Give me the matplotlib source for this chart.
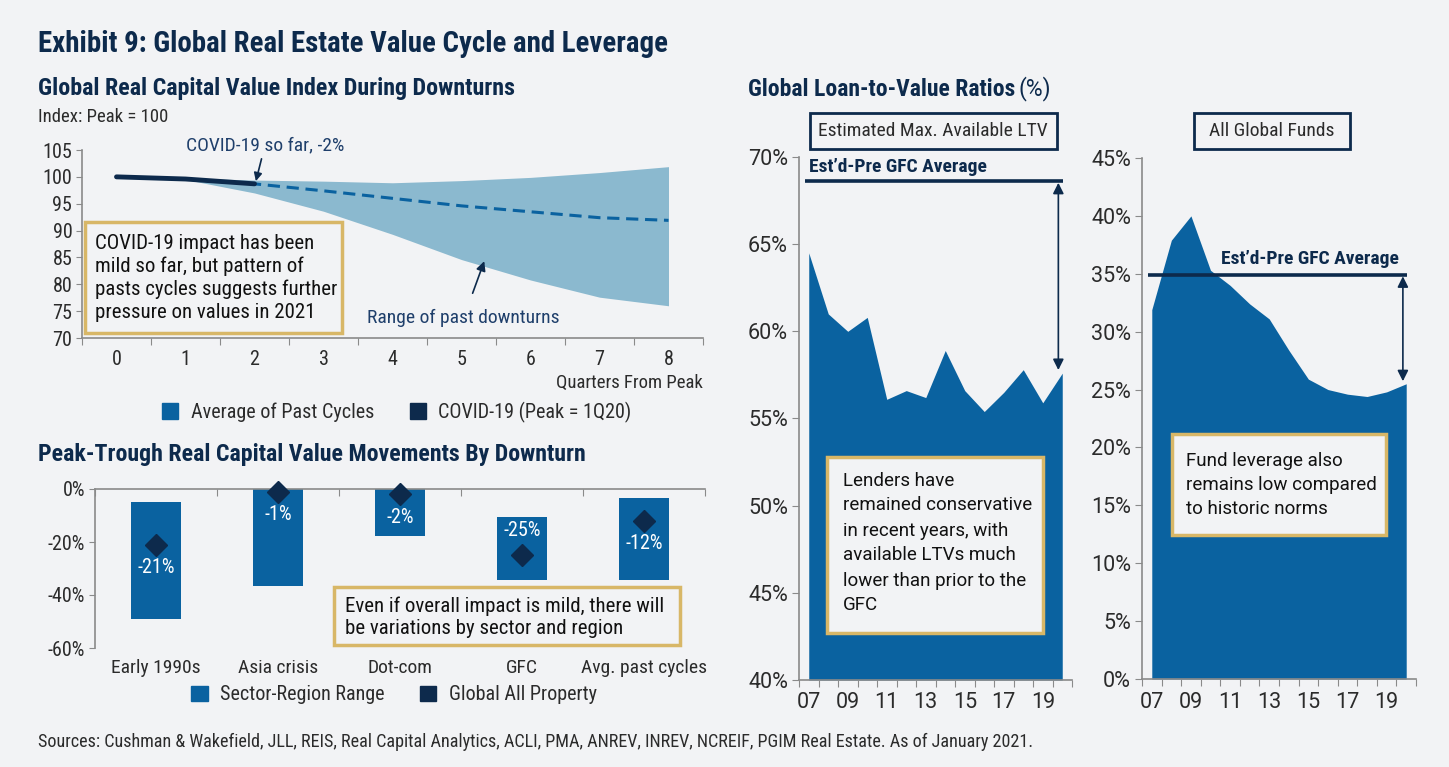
"""
Exhibit 9: Global Real Estate Value Cycle and Leverage.
Four panels: value index band, peak-trough bars, two LTV area charts.
"""

import numpy as np
import matplotlib.pyplot as plt
from matplotlib.patches import Rectangle, Patch


# ===============================
# 1. DATA
# ===============================

quarters = [0, 1, 2, 3, 4, 5, 6, 7, 8]
past_upper = [100.0, 99.8, 99.4, 99.2, 98.9, 99.3, 99.9, 100.8, 101.9]
past_lower = [100.0, 99.5, 97.0, 93.6, 89.3, 84.6, 80.8, 77.6, 76.0]
past_avg = [100.0, 99.6, 98.7, 97.4, 96.0, 94.6, 93.5, 92.4, 91.9]
covid_quarters = [0, 1, 2]
covid_index = [100.0, 99.6, 98.7]

downturns = ["Early 1990s", "Asia crisis", "Dot-com", "GFC", "Avg. past cycles"]
range_top = [-5.0, 0.0, 0.0, -10.5, -3.5]
range_bottom = [-49.0, -36.5, -17.8, -34.5, -34.5]
global_all = [-21, -1, -2, -25, -12]

years = ["07", "08", "09", "10", "11", "12", "13", "14", "15", "16", "17", "18", "19", "20"]
ltv_max = [64.5, 61.0, 60.0, 60.8, 56.1, 56.6, 56.2, 58.9, 56.6, 55.4, 56.5, 57.8, 55.9, 57.6]
ltv_pre_gfc = 68.6
fund_ltv = [31.9, 37.9, 40.0, 35.3, 34.0, 32.4, 31.1, 28.4, 25.9, 25.0, 24.6, 24.4, 24.8, 25.5]
fund_pre_gfc = 34.9


# ===============================
# 2. STYLE
# ===============================

W, H = 1449, 767
BG = "#F2F3F5"
NAVY = "#0D2A4C"
MID = "#0A62A0"
LIGHT = "#8BB9CF"
GOLD = "#D8B767"
GREY = "#8A8A8A"
TEXT = "#2B2B2B"

NARROW = ["Roboto Condensed", "DejaVu Sans"]
REG = ["Roboto", "DejaVu Sans"]

plt.rcParams["font.family"] = NARROW


def fx(px):
    return px / W


def fy(py):
    return 1 - py / H


def add_axes_px(fig, x0, y0, x1, y1):
    ax = fig.add_axes([fx(x0), fy(y1), (x1 - x0) / W, (y1 - y0) / H])
    ax.set_facecolor("none")
    return ax


def box_px(fig, x0, y0, x1, y1, edge, lw):
    rect = Rectangle((fx(x0), fy(y1)), (x1 - x0) / W, (y1 - y0) / H,
                     transform=fig.transFigure, facecolor=BG,
                     edgecolor=edge, linewidth=lw, zorder=5)
    fig.add_artist(rect)


def style_spines(ax, left=True, bottom=True, top=False):
    for side in ["left", "bottom", "top", "right"]:
        ax.spines[side].set_visible(False)
    for side, on in [("left", left), ("bottom", bottom), ("top", top)]:
        if on:
            ax.spines[side].set_visible(True)
            ax.spines[side].set_color(GREY)
            ax.spines[side].set_linewidth(1.2)


# ===============================
# 3. PANELS
# ===============================

def plot_value_index(fig):
    ax = add_axes_px(fig, 82, 150, 703, 338)

    ax.fill_between(quarters, past_lower, past_upper, color=LIGHT, lw=0)
    ax.plot(quarters, past_avg, color=MID, lw=2.2, ls=(0, (4, 2.2)))
    ax.plot(covid_quarters, covid_index, color=NAVY, lw=3.5,
            solid_capstyle="round")

    ax.set_xlim(-0.5, 8.5)
    ax.set_ylim(70, 105)
    style_spines(ax)

    ax.set_yticks(np.arange(70, 106, 5))
    ax.tick_params(axis="y", labelsize=14.5, colors=GREY, labelcolor=TEXT,
                   length=4, pad=3)
    ax.set_xticks(np.arange(-0.5, 9, 1))
    ax.set_xticklabels([])
    ax.set_xticks(quarters, minor=True)
    ax.set_xticklabels([str(q) for q in quarters], minor=True)
    ax.tick_params(axis="x", which="major", length=5, colors=GREY)
    ax.tick_params(axis="x", which="minor", length=0, labelsize=14.5,
                   labelcolor=TEXT, pad=9)

    ax.annotate("COVID-19 so far, -2%", xy=(2.02, 99.2), xytext=(2.15, 105.8),
                ha="center", va="center", fontsize=14, color="#1F3F6B",
                arrowprops=dict(arrowstyle="-|>", color=NAVY, lw=1.2,
                                mutation_scale=12, shrinkA=1, shrinkB=0))
    ax.annotate("Range of past downturns", xy=(5.33, 84.3), xytext=(5.03, 73.7),
                ha="center", va="center", fontsize=14, color="#1F3F6B",
                arrowprops=dict(arrowstyle="-|>", color=NAVY, lw=1.2,
                                mutation_scale=14, shrinkA=10, shrinkB=0))

    fig.text(fx(703), fy(383), "Quarters From Peak", ha="right", va="center",
             fontsize=13.5, color=TEXT)
    fig.text(fx(38), fy(117), "Index: Peak = 100", ha="left", va="center",
             fontsize=13.5, color=TEXT)

    box_px(fig, 85, 222, 342, 333, GOLD, 2.5)
    fig.text(fx(95), fy(278),
             "COVID-19 impact has been\nmild so far, but pattern of\n"
             "pasts cycles suggests further\npressure on values in 2021",
             ha="left", va="center", fontsize=15, color="#111111",
             linespacing=1.22, zorder=6)

    handles = [Patch(color=MID, label="Average of Past Cycles"),
               Patch(color=NAVY, label="COVID-19 (Peak = 1Q20)")]
    ax.legend(handles=handles, loc="center", ncol=2, frameon=False,
              bbox_to_anchor=(fx(397), fy(412)), bbox_transform=fig.transFigure,
              fontsize=14.5, handlelength=0.8, handleheight=0.8,
              handletextpad=0.6, columnspacing=1.8, labelcolor=TEXT)


def plot_peak_trough(fig):
    ax = add_axes_px(fig, 95, 489, 705, 648)
    x = np.arange(len(downturns))
    top = np.array(range_top)
    bottom = np.array(range_bottom)

    ax.bar(x, top - bottom, bottom=bottom, width=0.41, color=MID, zorder=2)
    ax.plot(x, global_all, ls="none", marker="D", markersize=11.5,
            color=NAVY, zorder=4, clip_on=False)

    offsets = [-8.8, -8.8, -8.8, 9.2, -8.4]
    for xi, v, off in zip(x, global_all, offsets):
        ax.text(xi, v + off, f"{v}%", ha="center", va="center",
                color="white", fontsize=14.5, zorder=5)

    ax.set_xlim(-0.5, 4.5)
    ax.set_ylim(-60, 0)
    style_spines(ax, bottom=False, top=True)

    ax.set_yticks([-60, -40, -20, 0])
    ax.set_yticklabels(["-60%", "-40%", "-20%", "0%"])
    ax.tick_params(axis="y", labelsize=14.5, colors=GREY, labelcolor=TEXT,
                   length=4, pad=3)
    ax.set_xticks(np.arange(-0.5, 5, 1))
    ax.set_xticklabels([])
    ax.set_xticks(x, minor=True)
    ax.set_xticklabels(downturns, minor=True)
    ax.tick_params(axis="x", which="major", top=True, bottom=False,
                   direction="in", length=5, colors=GREY)
    ax.tick_params(axis="x", which="minor", length=0, labelsize=14,
                   labelcolor=TEXT, pad=8)

    box_px(fig, 334, 587, 680, 645, GOLD, 2.5)
    fig.text(fx(345), fy(617),
             "Even if overall impact is mild, there will\n"
             "be variations by sector and region",
             ha="left", va="center", fontsize=15, color="#111111",
             linespacing=1.22, zorder=6)

    handles = [Patch(color=MID, label="Sector-Region Range"),
               Patch(color=NAVY, label="Global All Property")]
    ax.legend(handles=handles, loc="center", ncol=2, frameon=False,
              bbox_to_anchor=(fx(394), fy(695)), bbox_transform=fig.transFigure,
              fontsize=14.5, handlelength=0.8, handleheight=0.8,
              handletextpad=0.6, columnspacing=1.8, labelcolor=TEXT)


def plot_ltv_area(fig, rect_px, values, pre_gfc, ylim, yticks,
                  arrow_x, label_x, label_y, label_ha):
    ax = add_axes_px(fig, *rect_px)
    idx = np.arange(len(years))

    ax.fill_between(idx, values, ylim[0], color=MID, lw=0)
    ax.hlines(pre_gfc, idx[0] - 0.2, idx[-1] + 0.05, color=NAVY, lw=2.6,
              zorder=3)
    ax.annotate("", xy=(arrow_x, values[-1] + 0.1), xytext=(arrow_x, pre_gfc),
                arrowprops=dict(arrowstyle="<|-|>", color=NAVY, lw=1.2,
                                mutation_scale=16, shrinkA=1, shrinkB=1))
    ax.text(label_x, label_y, "Est\u2019d-Pre GFC Average", ha=label_ha,
            va="center", fontsize=14, fontweight="bold", color=NAVY)

    ax.set_xlim(-0.5, 13.5)
    ax.set_ylim(*ylim)
    style_spines(ax)

    ax.set_yticks(yticks)
    ax.set_yticklabels([f"{t}%" for t in yticks])
    ax.tick_params(axis="y", labelsize=15.5, colors=GREY, labelcolor=TEXT,
                   length=5, pad=3)
    for lab in ax.get_yticklabels():
        lab.set_family(REG)
    ax.set_xticks(np.arange(-0.5, 14, 1))
    ax.set_xticklabels([])
    ax.set_xticks(idx[::2], minor=True)
    ax.set_xticklabels(years[::2], minor=True)
    ax.tick_params(axis="x", which="major", length=5, colors=GREY)
    ax.tick_params(axis="x", which="minor", length=0, labelsize=15.5,
                   labelcolor=TEXT, pad=9)
    for lab in ax.get_xticklabels(minor=True):
        lab.set_family(REG)
    return ax


def plot_ltv(fig):
    fig.text(fx(748), fy(89), "Global Loan-to-Value Ratios", ha="left",
             va="center", fontsize=17, fontweight="bold", color=NAVY)
    fig.text(fx(1019), fy(89), "(%)", ha="left", va="center",
             fontsize=16.5, color=NAVY, family=REG)

    plot_ltv_area(fig, (799, 157, 1072, 680), ltv_max, ltv_pre_gfc,
                  (40, 70), list(range(40, 71, 5)),
                  arrow_x=12.8, label_x=0.0, label_y=69.45, label_ha="left")
    box_px(fig, 810, 113, 1057, 149, NAVY, 2)
    fig.text(fx(933), fy(131), "Estimated Max. Available LTV", ha="center",
             va="center", fontsize=14, color=TEXT, zorder=6)
    box_px(fig, 827, 457, 1043, 633, GOLD, 2.5)
    fig.text(fx(843), fy(543),
             "Lenders have\nremained conservative\nin recent years, with\n"
             "available LTVs much\nlower than prior to the\nGFC",
             ha="left", va="center", fontsize=13.5, color="#111111",
             family=REG, linespacing=1.5, zorder=6)

    plot_ltv_area(fig, (1142, 158, 1416, 679), fund_ltv, fund_pre_gfc,
                  (0, 45), list(range(0, 46, 5)),
                  arrow_x=12.83, label_x=12.6, label_y=36.3, label_ha="right")
    box_px(fig, 1194, 113, 1350, 149, NAVY, 2)
    fig.text(fx(1272), fy(131), "All Global Funds", ha="center",
             va="center", fontsize=14, color=TEXT, zorder=6)
    box_px(fig, 1172, 434, 1386, 535, GOLD, 2.5)
    fig.text(fx(1186), fy(485),
             "Fund leverage also\nremains low compared\nto historic norms",
             ha="left", va="center", fontsize=13.5, color="#111111",
             family=REG, linespacing=1.45, zorder=6)


# ===============================
# 4. MAIN
# ===============================

def main():
    fig = plt.figure(figsize=(W / 100, H / 100), dpi=100, facecolor=BG)

    fig.text(fx(38), fy(44), "Exhibit 9: Global Real Estate Value Cycle and Leverage",
             ha="left", va="center", fontsize=20.8, fontweight="bold", color=NAVY)
    fig.text(fx(38), fy(89), "Global Real Capital Value Index During Downturns",
             ha="left", va="center", fontsize=17.3, fontweight="bold", color=NAVY)
    fig.text(fx(38), fy(454), "Peak-Trough Real Capital Value Movements By Downturn",
             ha="left", va="center", fontsize=17.2, fontweight="bold", color=NAVY)

    plot_value_index(fig)
    plot_peak_trough(fig)
    plot_ltv(fig)

    fig.text(fx(38), fy(742),
             "Sources: Cushman & Wakefield, JLL, REIS, Real Capital Analytics, ACLI, "
             "PMA, ANREV, INREV, NCREIF, PGIM Real Estate. As of January 2021.",
             ha="left", va="center", fontsize=13.1, color=TEXT)

    fig.savefig("out.png", dpi=100, facecolor=BG)


if __name__ == "__main__":
    main()
